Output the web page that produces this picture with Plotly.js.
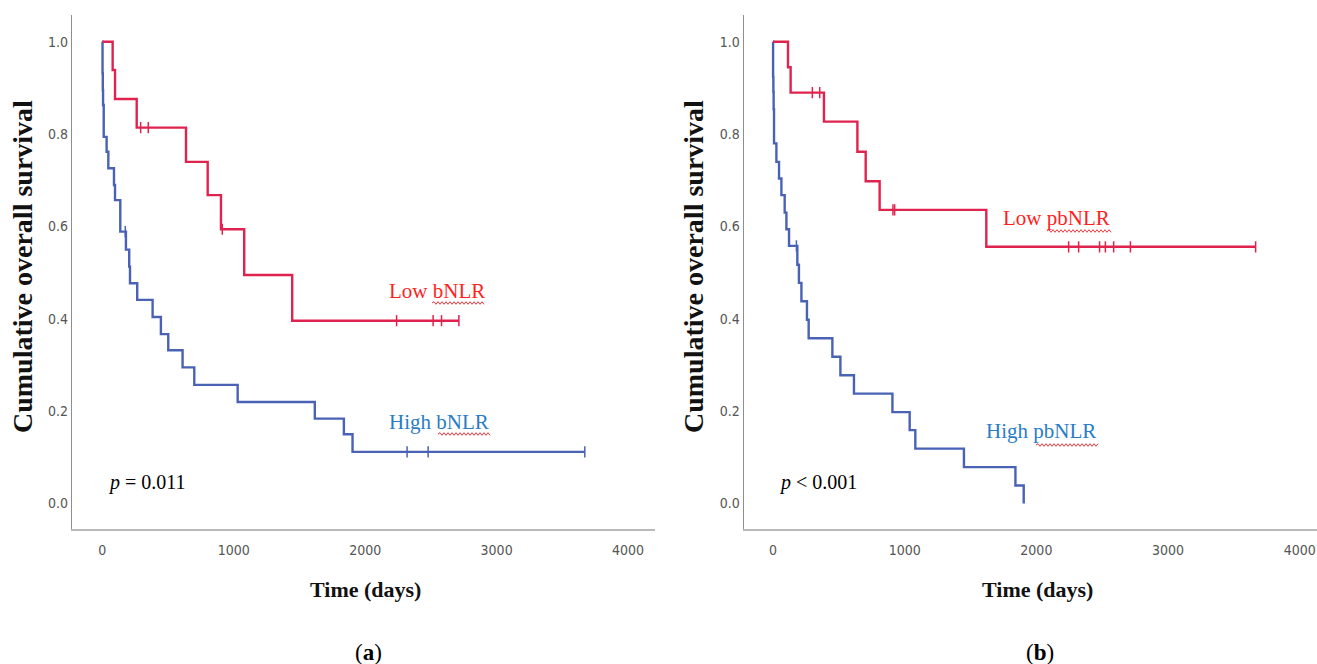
<!DOCTYPE html>
<html>
<head>
<meta charset="utf-8">
<script src="https://cdn.plot.ly/plotly-3.0.1.min.js"></script>
<style>
html,body{margin:0;padding:0;background:#fff;}
#chart{width:1317px;height:664px;}
</style>
</head>
<body>
<div id="chart"></div>
<script>
// ---- Data (days, cumulative survival after each event) ----
// Panel (a)
var lowB_events = [79, 97, 262, 637, 802, 903, 1080, 1445];
var lowB_surv   = [0.939, 0.876, 0.814, 0.740, 0.668, 0.594, 0.495, 0.396];
var lowB_censored = [292, 350, 913, 2239, 2517, 2581, 2713];
var lowB_end = 2713;

var highB_events = [2, 4, 6, 11, 33, 46, 89, 97, 137, 180, 205, 211, 266, 383, 446, 502, 611, 700, 1030, 1617, 1838, 1904];
var highB_surv   = [0.932, 0.895, 0.863, 0.794, 0.762, 0.726, 0.690, 0.657, 0.589, 0.550, 0.513, 0.477, 0.441, 0.404, 0.367, 0.332, 0.295, 0.257, 0.220, 0.184, 0.150, 0.112];
var highB_censored = [175, 2319, 2479, 3671];
var highB_end = 3671;

// Panel (b)
var lowPB_events = [114, 134, 387, 641, 704, 810, 1620];
var lowPB_surv   = [0.945, 0.890, 0.827, 0.762, 0.698, 0.636, 0.556];
var lowPB_censored = [299, 355, 911, 924, 2245, 2321, 2480, 2524, 2587, 2714, 3665];
var lowPB_end = 3665;

var highPB_events = [1, 3, 5, 8, 26, 46, 64, 89, 102, 122, 185, 197, 216, 258, 271, 451, 512, 615, 907, 1038, 1081, 1450, 1841, 1904];
var highPB_surv   = [0.924, 0.892, 0.854, 0.780, 0.740, 0.704, 0.668, 0.630, 0.594, 0.558, 0.517, 0.478, 0.438, 0.398, 0.358, 0.318, 0.278, 0.238, 0.198, 0.159, 0.119, 0.079, 0.039, 0.0];
var highPB_censored = [178];
var highPB_end = 1904;

var xTickVals = [0, 1000, 2000, 3000, 4000];
var yTickVals = [0, 0.2, 0.4, 0.6, 0.8, 1.0];
var yTickText = ['0.0', '0.2', '0.4', '0.6', '0.8', '1.0'];

// ---- Styles ----
var RED = '#e0234e', BLUE = '#4a62b5';
var RED_TXT = '#ff1f1f', BLUE_TXT = '#2a7cc6';
var W = 1317, H = 664;
var SERIF = '"Liberation Serif", "Times New Roman", serif';
var TICKFONT = {family: '"Liberation Sans Narrow", "DejaVu Sans Condensed", sans-serif', size: 14, color: '#555555'};

function kmXY(events, surv, end) {
  var x = [0].concat(events), y = [1].concat(surv);
  x.push(end); y.push(surv[surv.length - 1]);
  return {x: x, y: y};
}
function survAt(events, surv, t) {
  var s = 1;
  for (var i = 0; i < events.length; i++) { if (events[i] <= t) s = surv[i]; }
  return s;
}
function kmTraces(events, surv, cens, end, color, xa, ya, name) {
  var c = kmXY(events, surv, end);
  var line = {x: c.x, y: c.y, type: 'scatter', mode: 'lines', line: {shape: 'hv', color: color, width: 2.4},
              xaxis: xa, yaxis: ya, name: name, hoverinfo: 'skip'};
  var cy = cens.map(function (t) { return survAt(events, surv, t); });
  var marks = {x: cens, y: cy, type: 'scatter', mode: 'markers', xaxis: xa, yaxis: ya, name: name + ' censored',
               marker: {symbol: 'line-ns-open', size: 8, color: color, line: {color: color, width: 1.5}}, hoverinfo: 'skip'};
  return [line, marks];
}

var data = [].concat(
  kmTraces(highB_events, highB_surv, highB_censored, highB_end, BLUE, 'x', 'y', 'High bNLR'),
  kmTraces(lowB_events, lowB_surv, lowB_censored, lowB_end, RED, 'x', 'y', 'Low bNLR'),
  kmTraces(highPB_events, highPB_surv, highPB_censored, highPB_end, BLUE, 'x2', 'y2', 'High pbNLR'),
  kmTraces(lowPB_events, lowPB_surv, lowPB_censored, lowPB_end, RED, 'x2', 'y2', 'Low pbNLR')
);

function px(x) { return x / W; }
function py(y) { return 1 - y / H; }

function xAxis(domain, range, anchor) {
  return {domain: domain, range: range, anchor: anchor, showgrid: false, zeroline: false,
          showline: true, linecolor: '#b9b9b9', linewidth: 2.6,
          tickmode: 'array', tickvals: xTickVals, ticks: 'outside', ticklen: 7, tickcolor: 'rgba(0,0,0,0)',
          tickfont: TICKFONT, fixedrange: true};
}
function yAxis(domain, range, anchor) {
  return {domain: domain, range: range, anchor: anchor, showgrid: false, zeroline: false,
          showline: true, linecolor: '#8e8e8e', linewidth: 1.4,
          tickmode: 'array', tickvals: yTickVals, ticktext: yTickText, ticks: '',
          tickfont: TICKFONT, fixedrange: true};
}

var yDom = [py(528.5), py(15)];
var yRange = [-0.054, 1.058];

function ann(text, x, y, opts) {
  var a = {text: text, x: px(x), y: py(y), xref: 'paper', yref: 'paper', showarrow: false,
           xanchor: 'center', yanchor: 'middle', font: {family: SERIF, size: 20, color: '#000'}};
  for (var k in opts) a[k] = opts[k];
  return a;
}

var annotations = [
  ann('<b>Cumulative overall survival</b>', 22, 267, {textangle: -90, font: {family: SERIF, size: 28, color: '#111'}}),
  ann('<b>Cumulative overall survival</b>', 693, 267, {textangle: -90, font: {family: SERIF, size: 28, color: '#111'}}),
  ann('<b>Time (days)</b>', 365, 589, {font: {family: SERIF, size: 22, color: '#111'}}),
  ann('<b>Time (days)</b>', 1037, 589, {font: {family: SERIF, size: 22, color: '#111'}}),
  ann('(<b>a</b>)', 368, 652, {font: {family: SERIF, size: 23, color: '#000'}}),
  ann('(<b>b</b>)', 1040, 652, {font: {family: SERIF, size: 23, color: '#000'}}),
  ann('Low bNLR', 387, 291, {xanchor: 'left', font: {family: SERIF, size: 21, color: RED_TXT}}),
  ann('High bNLR', 387, 422, {xanchor: 'left', font: {family: SERIF, size: 21, color: BLUE_TXT}}),
  ann('<i>p</i> = 0.011', 106, 482, {xanchor: 'left', font: {family: SERIF, size: 20, color: '#000'}}),
  ann('Low pbNLR', 1001, 218, {xanchor: 'left', font: {family: SERIF, size: 21, color: RED_TXT}}),
  ann('High pbNLR', 984, 431, {xanchor: 'left', font: {family: SERIF, size: 21, color: BLUE_TXT}}),
  ann('<i>p</i> &lt; 0.001', 777, 482, {xanchor: 'left', font: {family: SERIF, size: 20, color: '#000'}})
];

// spell-check style wavy underlines (decoration)
function wave(x0, x1, y) {
  var d = 'M ' + px(x0) + ',' + py(y);
  var up = true;
  for (var x = x0 + 2; x <= x1; x += 2) {
    d += ' L ' + px(x) + ',' + py(y + (up ? -1.3 : 1.3));
    up = !up;
  }
  return {type: 'path', path: d, xref: 'paper', yref: 'paper', line: {color: '#e8383f', width: 1}};
}
var shapes = [wave(432, 485, 303), wave(438, 490, 434), wave(1047, 1111, 231), wave(1036, 1098, 445)];

var layout = {
  width: W, height: H, margin: {l: 0, r: 0, t: 0, b: 0},
  paper_bgcolor: '#fff', plot_bgcolor: '#fff', showlegend: false,
  xaxis: xAxis([px(72.3), px(655)], [-228, 4205], 'y'),
  yaxis: yAxis(yDom, yRange, 'x'),
  xaxis2: xAxis([px(744), 1], [-220, 4131], 'y2'),
  yaxis2: yAxis(yDom, yRange, 'x2'),
  annotations: annotations,
  shapes: shapes
};

Plotly.newPlot('chart', data, layout, {displayModeBar: false, staticPlot: true});
</script>
</body>
</html>
